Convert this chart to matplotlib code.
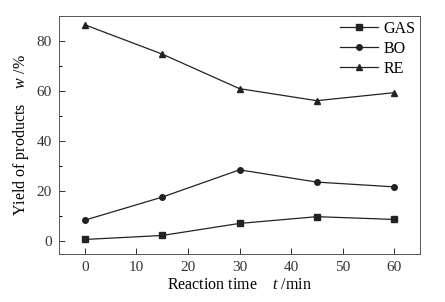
import numpy as np
import matplotlib
matplotlib.use('Agg')
import matplotlib.pyplot as plt
from matplotlib.ticker import MultipleLocator

plt.rcParams['font.family'] = ['Liberation Serif']
plt.rcParams['mathtext.fontset'] = 'custom'
plt.rcParams['mathtext.rm'] = 'Liberation Serif'
plt.rcParams['mathtext.it'] = 'Liberation Serif:italic'

time = [0, 15, 30, 45, 60]
gas = [0.8, 2.4, 7.2, 9.9, 8.8]
bo = [8.5, 17.7, 28.6, 23.7, 21.8]
re = [86.5, 74.8, 61.0, 56.2, 59.4]

fig = plt.figure(figsize=(4.45, 3.02), dpi=100)
ax = fig.add_axes([59 / 445, 1 - 254 / 302, 361 / 445, 238 / 302])

lc = '#222222'
ax.plot(time, gas, marker='s', ms=4, color=lc, lw=0.9, label='GAS')
ax.plot(time, bo, marker='o', ms=4, color=lc, lw=0.9, label='BO')
ax.plot(time, re, marker='^', ms=4.5, color=lc, lw=0.9, label='RE')

ax.set_xlim(-5, 65)
ax.set_ylim(-5, 90)
ax.xaxis.set_major_locator(MultipleLocator(10))
ax.yaxis.set_major_locator(MultipleLocator(20))
ax.yaxis.set_minor_locator(MultipleLocator(10))
ax.tick_params(direction='in', labelsize=11, length=4, width=0.7, colors='#333333', pad=5)
ax.tick_params(which='minor', direction='in', length=2.5, width=0.7)
for s in ax.spines.values():
    s.set_linewidth(0.7)
    s.set_color('#555555')

ax.set_xlabel('Reaction time    $t$ /min', fontsize=11.5, labelpad=2)
ax.set_ylabel('Yield of products    $w$ /%', fontsize=11.5, labelpad=4)

ax.legend(loc='upper right', frameon=False, fontsize=11.5, handlelength=2.4,
          handletextpad=0.3, labelspacing=0.25, borderaxespad=0.1,
          borderpad=0.2)

fig.savefig('out.png', dpi=100)
